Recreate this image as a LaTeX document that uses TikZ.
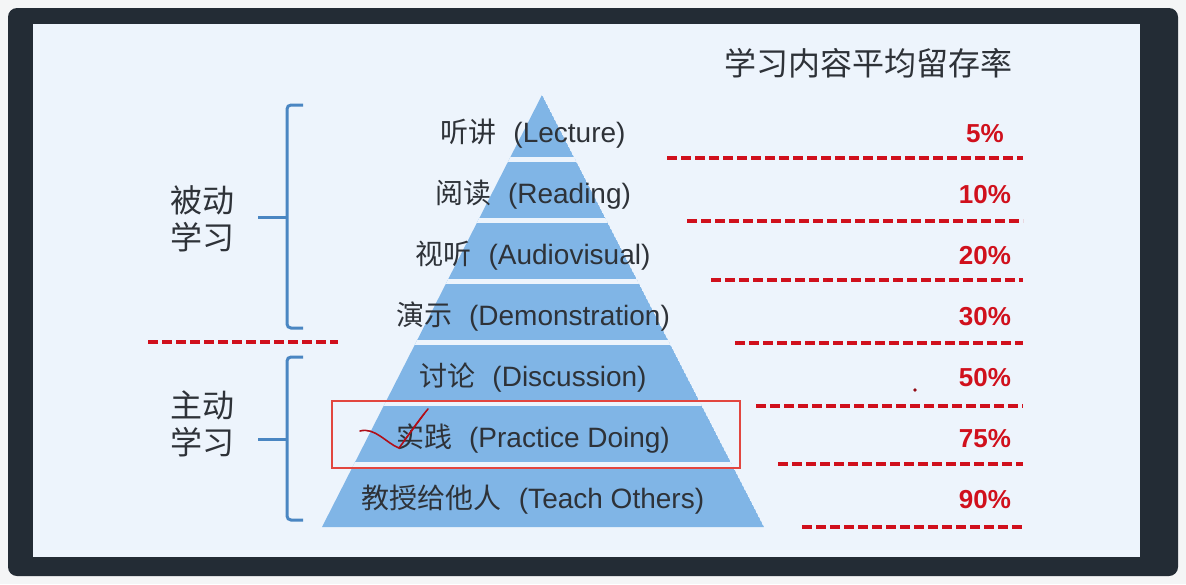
\documentclass[tikz,border=0pt]{standalone}
\usepackage{fontspec}
\setmainfont{Liberation Sans}
\newfontfamily\cjk{Noto Sans CJK SC}
\usetikzlibrary{positioning}
\definecolor{colpage}{HTML}{F4F5F6}
\definecolor{colframe}{HTML}{232C35}
\definecolor{colscreen}{HTML}{EDF4FC}
\definecolor{colband}{HTML}{80B5E6}
\definecolor{colbrace}{HTML}{4A86C2}
\definecolor{colrate}{HTML}{D0101C}
\definecolor{colmark}{HTML}{E2463F}
\definecolor{colink}{HTML}{2E3238}
\newcommand{\lvltext}[2]{{\cjk #1}\kern 17pt(#2)}

\begin{document}
\begin{tikzpicture}[x=1pt,y=-1pt,
  lvl/.style={font=\fontsize{28}{30}\selectfont,text=colink,inner sep=0pt},
  rate/.style={font=\fontsize{26}{28}\selectfont\bfseries,text=colrate,inner sep=0pt},
  sidelabel/.style={font=\fontsize{32}{37}\selectfont\cjk,text=colink,align=center,inner sep=0pt},
  brace/.style={colbrace,line width=3pt,rounded corners=4pt},
  cutline/.style={colrate,line width=3.4pt,dash pattern=on 10pt off 4pt},
]
  \useasboundingbox (0,0) rectangle (1186,584);
  % ---- pantalla ----
  \fill[colpage] (0,0) rectangle (1186,584);
  \fill[colframe,rounded corners=9pt] (8,8) rectangle (1178,576);
  \fill[colscreen] (33,24) rectangle (1140,557);
  \node[font=\fontsize{32}{34}\selectfont\cjk,text=colink,inner sep=0pt] (title) at (868,63) {学习内容平均留存率};
  % ---- piramide ----
  \coordinate (apex) at (542,95);
  \coordinate (bl) at (322,527);
  \coordinate (br) at (764,527);
  \begin{scope}
    \clip (apex) -- (br) -- (bl) -- cycle;
    \fill[colband] (apex) -- (br) -- (bl) -- cycle;
    \foreach \y in {159.5,220.5,281.5,342.5,403.5,464.5}
      \draw[colscreen,line width=5pt] (300,\y) -- (790,\y);
  \end{scope}
  \node[lvl] (l1) at (533,134) {\lvltext{听讲}{Lecture}};
  \node[lvl] (l2) at (533,195) {\lvltext{阅读}{Reading}};
  \node[lvl] (l3) at (533,256) {\lvltext{视听}{Audiovisual}};
  \node[lvl] (l4) at (533,317) {\lvltext{演示}{Demonstration}};
  \node[lvl] (l5) at (533,378) {\lvltext{讨论}{Discussion}};
  \node[lvl] (l6) at (533,439) {\lvltext{实践}{Practice Doing}};
  \node[lvl] (l7) at (533,500) {\lvltext{教授给他人}{Teach Others}};
  % ---- marca a mano ----
  \draw[colmark,line width=2.4pt] (332,401) rectangle (740,468);
  \draw[colrate!85!black,line width=1.6pt,line cap=round]
    (360,431) .. controls (375,427) and (386,443) .. (399,448)
    .. controls (408,436) and (418,421) .. (428,409);
  \draw[colrate!85!black,line width=1.4pt,line cap=round] (404,441) -- (424,414);
  \fill[colrate!70!black] (915,390) circle (1.8pt);
  % ---- tasas ----
  \node[rate] (p1) at (985,133.5) {5\%};
  \node[rate] (p2) at (985,194.5) {10\%};
  \node[rate] (p3) at (985,255.5) {20\%};
  \node[rate] (p4) at (985,316.5) {30\%};
  \node[rate] (p5) at (985,377.5) {50\%};
  \node[rate] (p6) at (985,438.5) {75\%};
  \node[rate] (p7) at (985,499.5) {90\%};
  \draw[cutline] (667,158) -- (1023,158);
  \draw[cutline] (687,221) -- (1023,221);
  \draw[cutline] (711,280) -- (1023,280);
  \draw[cutline] (735,343) -- (1023,343);
  \draw[cutline] (756,406) -- (1023,406);
  \draw[cutline] (778,464) -- (1023,464);
  \draw[cutline] (802,527) -- (1023,527);
  % ---- grupos ----
  \draw[cutline] (148,342) -- (338,342);
  \node[sidelabel] (passive) at (202,218.5) {被动\\学习};
  \node[sidelabel] (active) at (202,423.5) {主动\\学习};
  \draw[brace] (303,105) -- (287,105) -- (287,328) -- (303,328);
  \draw[brace] (287,217) -- (258,217);
  \draw[brace] (303,357) -- (287,357) -- (287,520) -- (303,520);
  \draw[brace] (287,439) -- (258,439);
\end{tikzpicture}
\end{document}
